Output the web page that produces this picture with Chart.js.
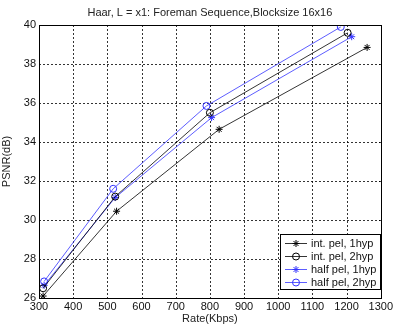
<!DOCTYPE html>
<html><head><meta charset="utf-8">
<script src="https://cdn.jsdelivr.net/npm/chart.js@4.4.1/dist/chart.umd.min.js"></script>
<style>html,body{margin:0;padding:0;background:#fff}#c{display:block}</style>
</head><body>
<canvas id="c" width="395" height="328"></canvas>
<script>
const titleText = "Haar, L = x1: Foreman Sequence,Blocksize 16x16";
const xTitle = "Rate(Kbps)";
const yTitle = "PSNR(dB)";
const seriesNames = ["int. pel, 1hyp", "int. pel, 2hyp", "half pel, 1hyp", "half pel, 2hyp"];
const intPel1Rate = [312, 527, 827, 1260];
const intPel1Psnr = [26.1, 30.45, 34.65, 38.85];
const intPel2Rate = [312, 523, 800, 1203];
const intPel2Psnr = [26.5, 31.2, 35.5, 39.6];
const halfPel1Rate = [315, 523, 805, 1215];
const halfPel1Psnr = [26.65, 31.15, 35.25, 39.4];
const halfPel2Rate = [315, 517, 790, 1183];
const halfPel2Psnr = [26.85, 31.6, 35.85, 39.9];
const xTicks = [300,400,500,600,700,800,900,1000,1100,1200,1300];
const yTicks = [26,28,30,32,34,36,38,40];

const FONT = "Liberation Sans, Arial, sans-serif";
const BLACK = "#000000", BLUE = "#3333ff";
function pts(xs, ys){ return xs.map((x,i)=>({x:x, y:ys[i]})); }
function ds(label, xs, ys, color, style){
  return {label, data: pts(xs,ys), showLine:true, borderColor:color, backgroundColor:'rgba(0,0,0,0)',
    borderWidth:0.8, pointStyle:style, pointRadius:3.5, pointBorderWidth:1, pointBorderColor:color,
    pointBackgroundColor:'rgba(0,0,0,0)', tension:0};
}
const frame = {
  id:'frame',
  beforeDatasetsDraw(chart){
    const {ctx, chartArea:a, scales} = chart;
    ctx.save();
    ctx.strokeStyle = '#000'; ctx.lineWidth = 0.8; ctx.setLineDash([2,2]);
    xTicks.forEach(v=>{ const p = Math.round(scales.x.getPixelForValue(v))+0.5;
      ctx.beginPath(); ctx.moveTo(p, a.top); ctx.lineTo(p, a.bottom); ctx.stroke(); });
    yTicks.forEach(v=>{ const p = Math.round(scales.y.getPixelForValue(v))+0.5;
      ctx.beginPath(); ctx.moveTo(a.left, p); ctx.lineTo(a.right, p); ctx.stroke(); });
    ctx.restore();
  },
  afterDraw(chart){
    const {ctx, chartArea:a} = chart;
    ctx.save();
    ctx.strokeStyle = '#000'; ctx.lineWidth = 1; ctx.setLineDash([]);
    ctx.strokeRect(Math.round(a.left)+0.5, Math.round(a.top)+0.5, Math.round(a.right-a.left), Math.round(a.bottom-a.top));
    ctx.fillStyle = '#222'; ctx.font = '11px ' + FONT; ctx.textAlign='center'; ctx.textBaseline='middle';
    ctx.fillText(titleText, (a.left+a.right)/2, 13);
    const lx = 280, ly = 234, lw = 100, lh = 55;
    ctx.fillStyle = '#fff'; ctx.fillRect(lx, ly, lw, lh);
    ctx.strokeStyle = '#000'; ctx.strokeRect(lx+0.5, ly+0.5, lw, lh);
    ctx.textAlign='left';
    chart.data.datasets.forEach((d,i)=>{
      const yy = ly + 9 + i*13;
      ctx.strokeStyle = d.borderColor; ctx.lineWidth = 0.8;
      ctx.beginPath(); ctx.moveTo(lx+5, yy+0.5); ctx.lineTo(lx+27, yy+0.5); ctx.stroke();
      ctx.fillStyle = 'rgba(0,0,0,0)'; ctx.lineWidth = 1;
      Chart.helpers.drawPoint(ctx, {pointStyle:d.pointStyle, radius:3.5, borderWidth:1}, lx+16, yy+0.5);
      ctx.fillStyle = '#111'; ctx.font='11px ' + FONT;
      ctx.fillText(d.label, lx+31, yy+1);
    });
    ctx.restore();
  }
};
new Chart(document.getElementById('c'), {
  type:'scatter',
  data:{datasets:[
    ds(seriesNames[0], intPel1Rate, intPel1Psnr, BLACK, 'star'),
    ds(seriesNames[1], intPel2Rate, intPel2Psnr, BLACK, 'circle'),
    ds(seriesNames[2], halfPel1Rate, halfPel1Psnr, BLUE, 'star'),
    ds(seriesNames[3], halfPel2Rate, halfPel2Psnr, BLUE, 'circle')
  ]},
  options:{
    responsive:false, animation:false, devicePixelRatio:1,
    layout:{padding:{top:25, right:9, left:0, bottom:0}},
    plugins:{legend:{display:false}, title:{display:false}, tooltip:{enabled:false}},
    scales:{
      x:{type:'linear', min:300, max:1300,
        afterBuildTicks(s){ s.ticks = xTicks.map(v=>({value:v})); },
        afterFit(s){ s.height = 30; },
        grid:{display:false, drawTicks:false, tickLength:0},
        border:{display:false},
        ticks:{color:'#111', font:{family:FONT, size:11}, padding:2, maxRotation:0, autoSkip:false,
          callback:v=>String(v)},
        title:{display:true, text:xTitle, color:'#222', font:{family:FONT, size:11}, padding:{top:0,bottom:2}}
      },
      y:{type:'linear', min:26, max:40,
        afterBuildTicks(s){ s.ticks = yTicks.map(v=>({value:v})); },
        afterFit(s){ s.width = 39; },
        grid:{display:false, drawTicks:false, tickLength:0},
        border:{display:false},
        ticks:{color:'#111', font:{family:FONT, size:11}, padding:3, autoSkip:false, callback:v=>String(v)},
        title:{display:true, text:yTitle, color:'#222', font:{family:FONT, size:11}, padding:{top:0,bottom:0}}
      }
    }
  },
  plugins:[frame]
});
</script>
</body></html>
